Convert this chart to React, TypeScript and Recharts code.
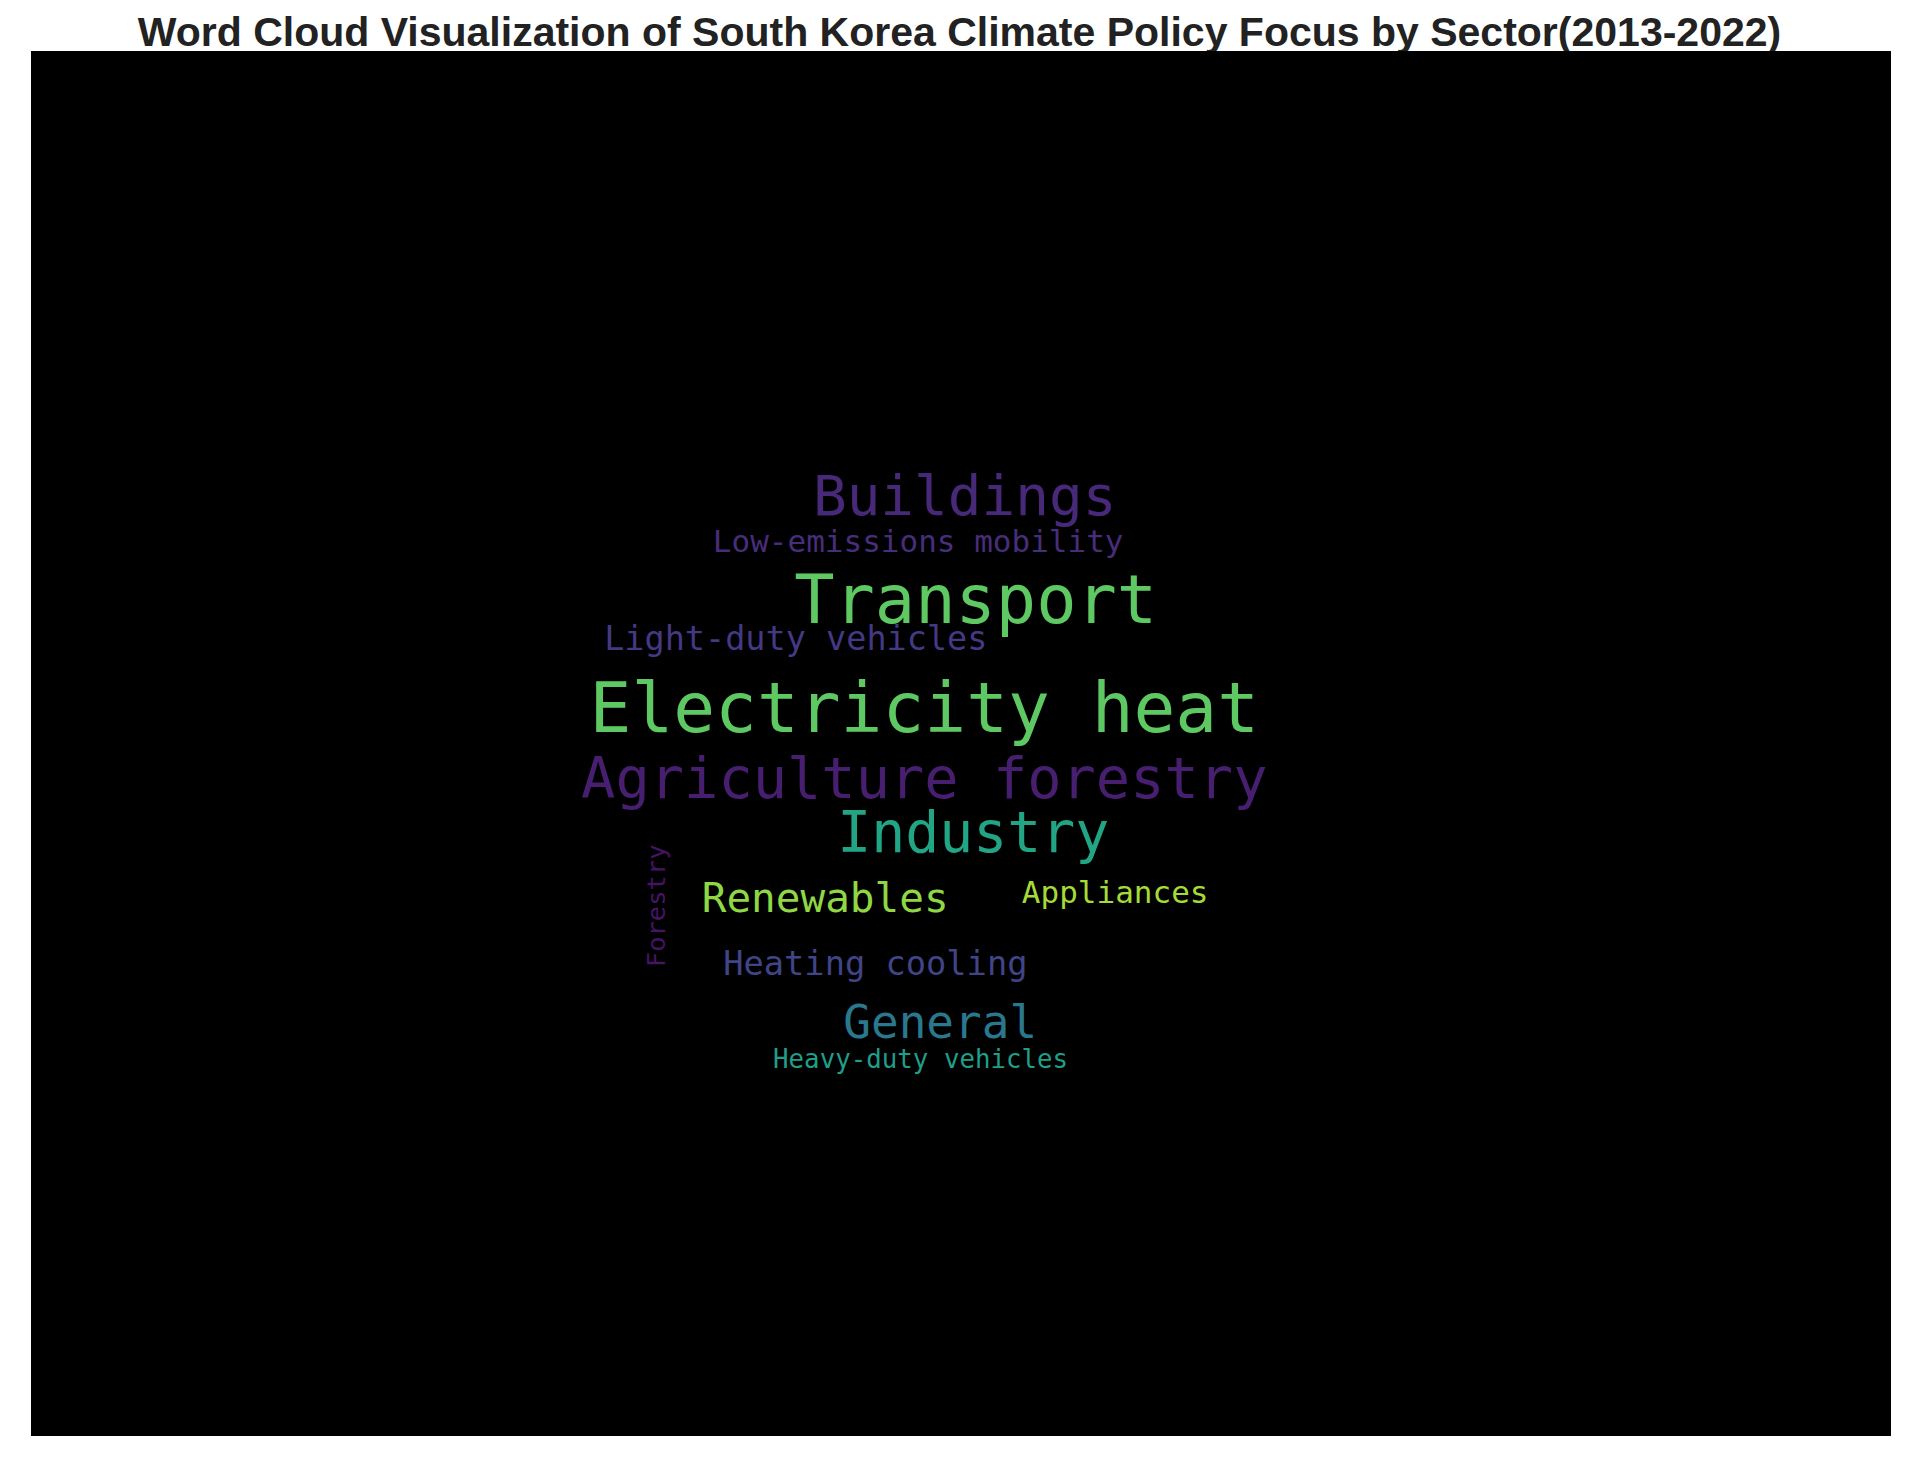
import React from "react";
import { ScatterChart, Scatter, XAxis, YAxis, ReferenceArea } from "recharts";

// word cloud layout
const words = [
  "Buildings",
  "Low-emissions mobility",
  "Transport",
  "Light-duty vehicles",
  "Electricity heat",
  "Agriculture forestry",
  "Industry",
  "Forestry",
  "Renewables",
  "Appliances",
  "Heating cooling",
  "General",
  "Heavy-duty vehicles",
];
const weights = [56, 31, 67, 33.5, 69.5, 57, 56.5, 25.5, 41, 31, 33.7, 46, 25.8];
const posX = [788, 750, 797, 650, 755, 755, 795, 536, 674, 911, 715, 768, 752];
const posY = [405, 442, 490, 522, 578, 636, 680, 740, 734, 729, 787, 835, 865];
const vertical = ["Forestry"];

const COLORS: Record<string, string> = {
  Buildings: "#482878",
  "Low-emissions mobility": "#472d7b",
  Transport: "#5ec962",
  "Light-duty vehicles": "#443983",
  "Electricity heat": "#5ec962",
  "Agriculture forestry": "#481f70",
  Industry: "#21a585",
  Forestry: "#471365",
  Renewables: "#8fd744",
  Appliances: "#a5db36",
  "Heating cooling": "#414487",
  General: "#2a788e",
  "Heavy-duty vehicles": "#1f9e89",
};

const data = words.map((w, i) => ({ word: w, x: posX[i], y: posY[i], weight: weights[i] }));

const WordShape = (props: any) => {
  const { cx, cy, payload } = props;
  const rot = vertical.includes(payload.word);
  return (
    <text
      x={cx}
      y={cy}
      fill={COLORS[payload.word]}
      fontSize={payload.weight}
      fontFamily="DejaVu Sans Mono"
      textAnchor="middle"
      dominantBaseline="central"
      transform={rot ? `rotate(-90 ${cx} ${cy})` : undefined}
    >
      {payload.word}
    </text>
  );
};

export default function App() {
  return (
    <div style={{ position: "relative", width: 1903, height: 1452 }}>
      <div
        style={{
          position: "absolute",
          top: 1,
          left: 0,
          width: 1903,
          textAlign: "center",
          fontFamily: "Liberation Sans",
          fontWeight: "bold",
          fontSize: 41,
          color: "#222",
        }}
      >
        Word Cloud Visualization of South Korea Climate Policy Focus by Sector(2013-2022)
      </div>
      <ScatterChart
        width={1903}
        height={1452}
        margin={{ top: 43, right: 20, bottom: 24, left: 23 }}
      >
        <XAxis type="number" dataKey="x" domain={[25, 1545]} hide />
        <YAxis type="number" dataKey="y" domain={[42, 1173]} reversed hide />
        <ReferenceArea x1={25} x2={1545} y1={42} y2={1173} fill="#000" fillOpacity={1} stroke="none" />
        <Scatter data={data} shape={<WordShape />} isAnimationActive={false} />
      </ScatterChart>
    </div>
  );
}
